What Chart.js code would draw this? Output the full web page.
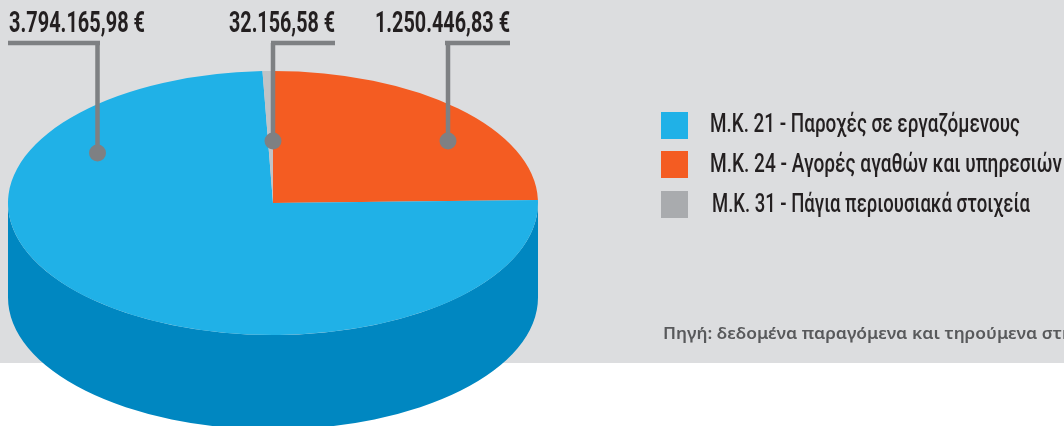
<!DOCTYPE html>
<html lang="el">
<head>
<meta charset="utf-8">
<style>html,body{margin:0;padding:0;background:#fff;overflow:hidden}canvas{display:block}</style>
<script src="https://cdn.jsdelivr.net/npm/chart.js@4/dist/chart.umd.min.js"></script>
</head>
<body>
<canvas id="c" width="1064" height="426"></canvas>
<script>
// Data, in clockwise drawing order from 12 o'clock
const sliceNames = ["Μ.Κ. 24", "Μ.Κ. 21", "Μ.Κ. 31"];
const sliceValues = [1250446.83, 3794165.98, 32156.58];
const sliceColors = ["#F45C22", "#20B1E7", "#C1C3C6"];
const sideColors = ["#C4481A", "#0087C1", "#9A9C9E"];
const valueLabels = ["1.250.446,83 €", "3.794.165,98 €", "32.156,58 €"];
// Legend
const legendLabels = ["Μ.Κ. 21 - Παροχές σε εργαζόμενους", "Μ.Κ. 24 - Αγορές αγαθών και υπηρεσιών", "Μ.Κ. 31 - Πάγια περιουσιακά στοιχεία"];
const legendColors = ["#20B1E7", "#F45C22", "#A9ABAE"];
const sourceText = "Πηγή: δεδομένα παραγόμενα και τηρούμενα στη";

// Layout (page pixels)
const pie = {cx: 273, cy: 203, rx: 265, ry: 132, depth: 94.5};
const leaders = [
  {textX: 375, textW: 135, x0: 445, x1: 510, vx: 448, dotY: 141},
  {textX: 9, textW: 136, x0: 8, x1: 100, vx: 97.5, dotY: 153},
  {textX: 229, textW: 106, x0: 271, x1: 335, vx: 273, dotY: 141}
];
const legendLayout = [
  {sy: 112, tx: 710, base: 132, w: 310},
  {sy: 151, tx: 710, base: 172, w: 352},
  {sy: 191, tx: 712, base: 212, w: 318}
];
const bandBottom = 363, bg = "#DCDDDF", ink = "#231F20", leaderColor = "#7E8083";

function fitText(ctx, text, x, y, font, color, width) {
  ctx.save();
  ctx.font = font; ctx.fillStyle = color; ctx.textBaseline = "alphabetic"; ctx.textAlign = "left";
  const k = width / ctx.measureText(text).width;
  ctx.translate(x, y); ctx.scale(k, 1);
  ctx.fillText(text, 0, 0);
  ctx.restore();
}
function norm(a) { const t = Math.PI * 2; return ((a % t) + t) % t; }

const pie3d = {
  id: "pie3d",
  beforeDraw(chart) {
    const c = chart.ctx;
    c.save(); c.fillStyle = bg; c.fillRect(0, 0, chart.width, bandBottom); c.restore();
  },
  beforeDatasetsDraw(chart) {
    const c = chart.ctx, arcs = chart.getDatasetMeta(0).data, R = arcs[0].outerRadius;
    // extruded wall: front half of each slice (angles 0..PI, also checked one turn later for wrap)
    arcs.forEach((a, i) => {
      const a0 = norm(a.startAngle), a1 = a0 + (a.endAngle - a.startAngle);
      [0, Math.PI * 2].forEach(turn => {
        const s = Math.max(a0, turn), e = Math.min(a1, turn + Math.PI);
        if (e <= s) return;
        c.save();
        c.fillStyle = sideColors[i];
        c.beginPath();
        c.ellipse(pie.cx, pie.cy, pie.rx, pie.ry, 0, s, e);
        c.ellipse(pie.cx, pie.cy + pie.depth, pie.rx, pie.ry, 0, e, s, true);
        c.closePath();
        c.fill();
        c.restore();
      });
    });
    // top face: library arcs squashed into the ellipse
    c.save();
    c.translate(pie.cx, pie.cy);
    c.scale(pie.rx / R, pie.ry / R);
    c.translate(-arcs[0].x, -arcs[0].y);
  },
  afterDatasetsDraw(chart) {
    const c = chart.ctx;
    c.restore();
    leaders.forEach((l, i) => {
      fitText(c, valueLabels[i], l.textX, 32, "bold 30px Roboto", ink, l.textW);
      c.save();
      c.strokeStyle = leaderColor; c.fillStyle = leaderColor; c.lineWidth = 4.5;
      c.beginPath(); c.moveTo(l.x0, 43); c.lineTo(l.x1, 43);
      c.moveTo(l.vx, 43); c.lineTo(l.vx, l.dotY); c.stroke();
      c.beginPath(); c.arc(l.vx, l.dotY, 8.5, 0, Math.PI * 2); c.fill();
      c.restore();
    });
    legendLabels.forEach((t, i) => {
      const l = legendLayout[i];
      c.fillStyle = legendColors[i];
      c.fillRect(661, l.sy, 27, 27);
      fitText(c, t, l.tx, l.base, "500 26px Roboto", ink, l.w);
    });
    fitText(c, sourceText, 663, 339, "600 16px 'Noto Sans'", "#58595B", 410);
  }
};

new Chart(document.getElementById("c"), {
  type: "pie",
  data: {labels: sliceNames, datasets: [{data: sliceValues, backgroundColor: sliceColors, borderWidth: 0, clip: false}]},
  options: {
    responsive: false, animation: false, rotation: 0,
    layout: {padding: 0},
    events: [],
    plugins: {legend: {display: false}, tooltip: {enabled: false}, title: {display: false}}
  },
  plugins: [pie3d]
});
</script>
</body>
</html>
